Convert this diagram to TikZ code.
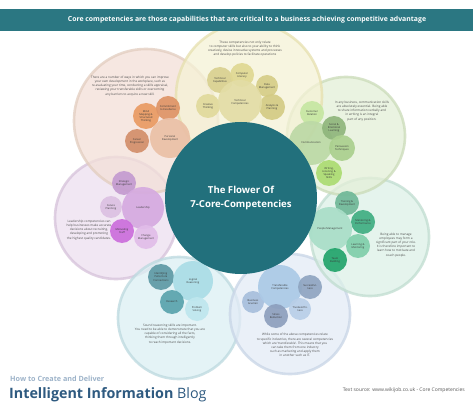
\documentclass[tikz,border=0pt]{standalone}
\usepackage{fontspec}
\setmainfont{Open Sans}
\definecolor{banner}{HTML}{2B7782}
\definecolor{core}{HTML}{22707C}
\definecolor{ptxt}{HTML}{4A4A4A}
\definecolor{howc}{HTML}{9DB3C9}
\definecolor{blogc}{HTML}{2E5A80}
\definecolor{srcc}{HTML}{5A5A5A}
% petals
\definecolor{techF}{HTML}{F5F2D6}\definecolor{techR}{HTML}{E6E0AE}
\definecolor{persF}{HTML}{F3E0D8}\definecolor{persR}{HTML}{E2CDBF}
\definecolor{commF}{HTML}{E4EFD8}\definecolor{commR}{HTML}{CADBB8}
\definecolor{peopF}{HTML}{DDF1E8}\definecolor{peopR}{HTML}{C0DDD0}
\definecolor{tranF}{HTML}{E3EBF6}\definecolor{tranR}{HTML}{C8D5E6}
\definecolor{logiF}{HTML}{DCF0F3}\definecolor{logiR}{HTML}{BCD9DF}
\definecolor{leadF}{HTML}{EDDFF0}\definecolor{leadR}{HTML}{D6C2DA}
\newcommand{\subfont}{\fontsize{2.6}{3.1}\selectfont}
\newcommand{\parafont}{\fontsize{3.1}{4.1}\selectfont}
\tikzset{
  petal/.style 2 args={circle, inner sep=0pt, minimum size=#1, line width=2.6pt,
     fill=#2F, draw=#2R, fill opacity=0.75, draw opacity=0.75},
  bub/.style 2 args={/utils/exec={\definecolor{bubc}{HTML}{#2}}, circle, inner sep=0pt,
     minimum size=#1, fill=bubc, align=center,
     font=\subfont, text=black!78, fill opacity=0.92, text opacity=1},
  para/.style={align=center, font=\parafont, text=ptxt, inner sep=0pt},
}
\begin{document}
\begin{tikzpicture}[x=1pt,y=-1pt]
\useasboundingbox (0,0) rectangle (473,403);
\fill[white] (0,0) rectangle (473,403);

% ---------------- petals
\node[petal={122}{lead}] (leadP) at (116,218) {};
\node[petal={122}{logi}] (logiP) at (179,318) {};
\node[petal={120}{tran}] (tranP) at (290,314) {};
\node[petal={118}{peop}] (peopP) at (370,237) {};
\node[petal={118}{comm}] (commP) at (346,136) {};
\node[petal={144}{pers}] (persP) at (146,121) {};
\node[petal={146}{tech}] (techP) at (249,96) {};

% ---------------- banner
\fill[banner] (0,9) rectangle (473,31);
\node[font=\bfseries\fontsize{6.9}{7.5}\selectfont, text=white, inner sep=0pt] (bannertxt) at (247,20)
  {Core competencies are those capabilities that are critical to a business achieving competitive advantage};

% ---------------- Technical
\node[para] (techT) at (245,49) {These competencies not only relate\\to computer skills but also to your ability to think\\creatively, devise innovative systems and processes\\and develop policies to facilitate operations};
\node[bub={26}{D9D190}] (t1) at (220,80) {Technical\\Capabilities};
\node[bub={24}{E0D892}] (t2) at (242,75) {Computer\\Literacy};
\node[bub={22}{D6CD88}] (t3) at (267,86) {Data\\Management};
\node[bub={24}{E1DA9C}] (t6) at (208,106) {Creative\\Thinking};
\node[bub={26}{D4CB84}] (t5) at (272,107) {Analysis \&\\Planning};
\node[bub={44}{E3DDA6}] (t4) at (240,102) {Technical\\Competencies};

% ---------------- Personal development
\node[para] (persT) at (130,86) {There are a number of ways in which you can improve\\your own development in the workplace, such as\\re-evaluating your time, conducting a skills appraisal,\\reviewing your transferable skills or overcoming\\any barriers to acquire a new skill.};
\node[bub={26}{E99A63}] (p1) at (146,116) {Mind\\Mapping \&\\Structured\\Thinking};
\node[bub={24}{DF9466}] (p2) at (168,108) {Commitment\\to Excellence};
\node[bub={24}{D38F6A}] (p3) at (137,141) {Career\\Progression};
\node[bub={40}{EBC0A6}] (p4) at (170,138) {Personal\\Development};

% ---------------- Communication
\node[para] (commT) at (362,111) {In any business, communication skills\\are absolutely essential. Being able\\to share information verbally and\\in writing is an integral\\part of any position.};
\node[bub={24}{C6E7A2}] (c1) at (312,113) {Customer\\Relation};
\node[bub={44}{BCD9A6}] (c3) at (311,143) {Communication};
\node[bub={24}{8FB67C}] (c2) at (334,128) {Social \&\\Emotional\\Learning};
\node[bub={26}{ABD08E}] (c4) at (342,148) {Persuasion\\Techniques};
\node[bub={26}{ACDC72}] (c5) at (329,173) {Writing,\\Listening \&\\Speaking\\Skills};

% ---------------- People management
\node[para] (peopT) at (396,245) {Being able to manage\\employees may form a\\significant part of your role.\\It is therefore important to\\learn how to motivate and\\coach people.};
\node[bub={24}{6FB898}] (m1) at (347,203) {Training \&\\Development};
\node[bub={24}{3FAE82}] (m2) at (363,222) {Mentoring \&\\Performance};
\node[bub={44}{A9DEC8}] (m3) at (330,229) {People Management};
\node[bub={24}{80CFAA}] (m4) at (358,246) {Learning \&\\Mentoring};
\node[bub={24}{22A46B}] (m5) at (335,260) {Team\\Building};

% ---------------- Transferable
\node[para] (tranT) at (295,345) {While some of the above competencies relate\\to specific industries, there are several competencies\\which are `transferable'. This means that you\\can take them from one industry\\such as marketing and apply them\\in another such as IT.};
\node[bub={22}{A7BFDC}] (r1) at (253,302) {Business\\Acumen};
\node[bub={44}{ABC9E6}] (r2) at (280,287) {Transferable\\Competencies};
\node[bub={24}{8FA5C1}] (r3) at (310,287) {Successful-\\ness};
\node[bub={22}{B9CFE8}] (r5) at (300,309) {Trustworthi-\\ness};
\node[bub={24}{8D9FBD}] (r4) at (276,316) {Stress\\Reduction};

% ---------------- Logical reasoning
\node[para] (logiT) at (170,334) {Sound reasoning skills are important.\\You need to be able to demonstrate that you are\\capable of considering all the facts,\\thinking them through intelligently\\to reach important decisions.};
\node[bub={26}{5E9AA5}] (l1) at (161,277) {Identifying\\Patterns \&\\Connections};
\node[bub={40}{AADDE6}] (l2) at (193,281) {Logical\\Reasoning};
\node[bub={24}{5AA3AD}] (l3) at (172,302) {Research};
\node[bub={24}{BFE7EE}] (l4) at (197,309) {Problem\\Solving};

% ---------------- Leadership
\node[para] (leadT) at (89,230) {Leadership competencies can\\help businesses make accurate\\decisions about recruiting,\\developing and promoting\\the highest quality candidates.};
\node[bub={24}{C49BD0}] (d1) at (124,183) {Strategic\\Management};
\node[bub={22}{DCC1E2}] (d2) at (111,207) {Future\\Planning};
\node[bub={42}{D5AAE0}] (d3) at (143,208) {Leadership};
\node[bub={24}{CC6EDC}] (d4) at (122,231) {Motivating\\Staff};
\node[bub={24}{E1BDE9}] (d5) at (146,237) {Change\\Management};

% ---------------- centre
\node[circle, fill=core, minimum size=152pt, inner sep=0pt, align=center,
      text=white, font=\bfseries\fontsize{9.6}{14.5}\selectfont] (centre) at (241,198)
  {The Flower Of\\7-Core-Competencies};

% ---------------- footer
\node[anchor=base west, inner sep=0pt, text=howc, font=\bfseries\fontsize{7.2}{8}\selectfont] (how) at (10,381) {How to Create and Deliver};
\node[anchor=base west, inner sep=0pt, text=blogc, font=\fontsize{14.3}{16}\selectfont] (blog) at (9,398) {\textbf{Intelligent Information} Blog};
\node[anchor=base east, inner sep=0pt, text=srcc, font=\fontsize{5}{6}\selectfont] (src) at (465,391) {Text source: www.wikijob.co.uk - Core Competencies};
\end{tikzpicture}
\end{document}
